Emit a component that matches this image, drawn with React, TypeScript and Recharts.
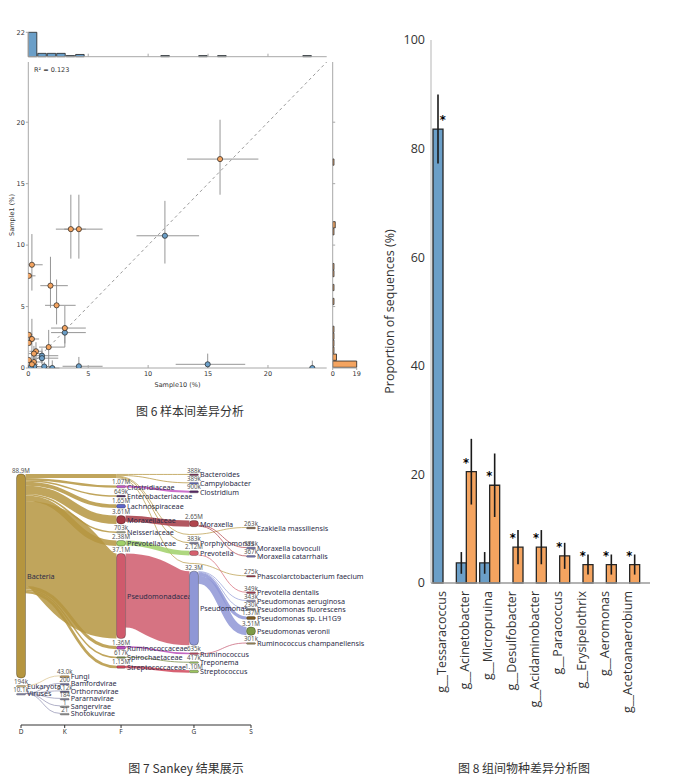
import React from "react";
import {
  Bar,
  BarChart,
  ComposedChart,
  ErrorBar,
  Line,
  LineChart,
  ReferenceLine,
  Sankey,
  Scatter,
  ScatterChart,
  XAxis,
  YAxis,
} from "recharts";

/* ---------- Fig. 6: genus abundance, Sample10 vs Sample1 ---------- */

const AXIS_MAX = 24.9;
const pctTicks = [0, 5, 10, 15, 20];
const innerTicks = [5, 10, 15, 20];
const R2_TEXT = "R\u00b2 = 0.123";

// [Sample10, Sample1, Sample10 low, Sample10 high, Sample1 low, Sample1 high]
const higherInSample1: number[][] = [
  [16.0, 17.0, 13.25, 19.2, 14.1, 20.2],
  [3.55, 11.3, 2.3, 4.8, 8.9, 14.1],
  [4.22, 11.3, 3.0, 6.2, 8.9, 14.1],
  [0.3, 8.4, 0, 1.2, 6.3, 10.9],
  [0.05, 7.5, 0, 0.6, 7.5, 7.5],
  [1.85, 6.7, 1.0, 3.3, 4.9, 9.05],
  [2.36, 5.1, 1.4, 3.95, 3.55, 7.2],
  [3.05, 3.25, 1.9, 4.8, 1.7, 5.05],
  [1.7, 1.7, 0.9, 3.05, 0.1, 3.1],
  [0.05, 2.7, 0, 0.35, 2.7, 2.7],
  [0.3, 2.36, 0, 0.9, 0.8, 4.0],
  [0.05, 2.04, 0, 0.3, 2.04, 2.04],
  [0.64, 1.36, 0.1, 1.2, 0.6, 2.1],
  [0.47, 1.17, 0, 1.0, 0.5, 1.8],
  [0.05, 0.65, 0, 0.2, 0.65, 0.65],
  [0.47, 0.49, 0, 1.1, 0, 1.0],
  [0.3, 0.3, 0, 0.8, 0, 0.6],
];

const higherInSample10: number[][] = [
  [11.4, 10.76, 9.03, 14.25, 8.5, 13.6],
  [3.05, 2.88, 1.9, 4.8, 2.0, 3.5],
  [1.14, 1.0, 0.3, 2.5, 0.4, 1.6],
  [1.14, 0.8, 0.3, 2.5, 0.3, 1.3],
  [0.5, 0.12, 0.1, 0.9, 0, 0.4],
  [1.33, 0.12, 0.7, 2.0, 0, 0.5],
  [2.0, 0, 1.4, 2.6, 0, 0.62],
  [4.22, 0.14, 2.86, 6.2, 0, 0.9],
  [14.97, 0.3, 12.3, 18.1, 0, 1.17],
  [23.7, 0, 23.7, 23.7, 0, 0.6],
  [0.2, 0.05, 0, 0.5, 0, 0.2],
];

// marginal histograms (counts per bin)
const SAMPLE10_BIN = 0.79;
const sample10Counts = [22, 3, 3, 3, 1, 2, 0, 0, 0, 0, 0, 0, 0, 0, 1, 0, 0, 0, 1, 0, 1, 0, 0, 0, 0, 0, 0, 0, 0, 1];
const SAMPLE1_BIN = 0.567;
const sample1Counts = [19, 3, 1, 1, 1, 1, 0, 0, 0, 1, 0, 1, 0, 1, 1, 0, 0, 0, 0, 1, 2, 0, 0, 0, 0, 0, 0, 0, 0, 1];

/* ---------- Fig. 8: genera differing between groups ---------- */

const genera = [
  "g__Tessaracoccus",
  "g__Acinetobacter",
  "g__Micropruina",
  "g__Desulfobacter",
  "g__Acidaminobacter",
  "g__Paracoccus",
  "g__Erysipelothrix",
  "g__Aeromonas",
  "g__Acetoanaerobium",
];
const groupAMean = [83.6, 3.7, 3.7, 0, 0, 0, 0, 0, 0];
const groupAErr = [6.35, 2.0, 2.0, null, null, null, null, null, null];
const groupBMean = [0, 20.5, 18.0, 6.6, 6.6, 5.0, 3.4, 3.4, 3.4];
const groupBErr = [null, 6.05, 5.85, 3.15, 3.15, 2.4, 1.85, 1.85, 1.85];
const significant = [true, true, true, true, true, true, true, true, true];
const pctAxisTicks = [0, 20, 40, 60, 80, 100];

/* ---------- Fig. 7: read classification flow ---------- */

// helper nodes start with "·" and are never drawn; "·rest" nodes hold the reads
// that stay at the parent's level, "·via" nodes carry flows that skip a rank
const ROOT = "·root";
const VIA_F = "·via F";
const VIA_G1 = "·via G1";
const VIA_G2 = "·via G2";
const rest = (name: string) => "·rest " + name;

const ranks = ["D", "K", "F", "G", "S"];

// [name, rank]; order inside a rank is the stacking order
const taxa: [string, string][] = [
  [ROOT, "D"],
  ["Bacteria", "D"],
  ["Eukaryota", "D"],
  ["Viruses", "D"],

  [VIA_F, "F"],
  ["Clostridiaceae", "F"],
  ["Enterobacteriaceae", "F"],
  ["Lachnospiraceae", "F"],
  ["Moraxellaceae", "F"],
  ["Neisseriaceae", "F"],
  ["Prevotellaceae", "F"],
  ["Pseudomonadaceae", "F"],
  ["Ruminococcaceae", "F"],
  ["Spirochaetaceae", "F"],
  ["Streptococcaceae", "F"],
  ["Fungi", "K"],
  ["Bamfordvirae", "K"],
  ["Orthornavirae", "K"],
  ["Pararnavirae", "K"],
  ["Sangervirae", "K"],
  ["Shotokuvirae", "K"],

  ["Bacteroides", "G"],
  ["Campylobacter", "G"],
  ["Clostridium", "G"],
  [rest("Enterobacteriaceae"), "G"],
  [rest("Lachnospiraceae"), "G"],
  ["Moraxella", "G"],
  [VIA_G1, "G"],
  ["Porphyromonas", "G"],
  ["Prevotella", "G"],
  [VIA_G2, "G"],
  ["Pseudomonas", "G"],
  ["Ruminococcus", "G"],
  ["Treponema", "G"],
  ["Streptococcus", "G"],

  [rest("Streptococcus"), "S"],
  [rest("Clostridium"), "S"],
  [rest("Treponema"), "S"],
  [rest("Porphyromonas"), "S"],
  [rest("Bacteroides"), "S"],
  [rest("Campylobacter"), "S"],
  ["Ezakiella massiliensis", "S"],
  [rest("Moraxella"), "S"],
  ["Moraxella bovoculi", "S"],
  ["Moraxella catarrhalis", "S"],
  [rest("Prevotella"), "S"],
  ["Phascolarctobacterium faecium", "S"],
  [rest("Ruminococcus"), "S"],
  ["Prevotella dentalis", "S"],
  ["Pseudomonas aeruginosa", "S"],
  ["Pseudomonas fluorescens", "S"],
  ["Pseudomonas sp. LH1G9", "S"],
  ["Pseudomonas veronii", "S"],
  ["Ruminococcus champanellensis", "S"],
];

// [from, to, reads]
const flows: [string, string, number][] = [
  [ROOT, "Bacteria", 88.9e6],
  [ROOT, "Eukaryota", 194e3],
  [ROOT, "Viruses", 10.1e3],
  ["Bacteria", VIA_F, 388e3 + 389e3 + 383e3 + 263e3 + 275e3],
  ["Bacteria", "Clostridiaceae", 1.07e6],
  ["Bacteria", "Enterobacteriaceae", 649e3],
  ["Bacteria", "Lachnospiraceae", 1.65e6],
  ["Bacteria", "Moraxellaceae", 3.61e6],
  ["Bacteria", "Neisseriaceae", 703e3],
  ["Bacteria", "Prevotellaceae", 2.38e6],
  ["Bacteria", "Pseudomonadaceae", 37.1e6],
  ["Bacteria", "Ruminococcaceae", 1.36e6],
  ["Bacteria", "Spirochaetaceae", 617e3],
  ["Bacteria", "Streptococcaceae", 1.15e6],
  ["Eukaryota", "Fungi", 43.0e3],
  ["Viruses", "Bamfordvirae", 200],
  ["Viruses", "Orthornavirae", 5.12e3],
  ["Viruses", "Pararnavirae", 184],
  ["Viruses", "Sangervirae", 1],
  ["Viruses", "Shotokuvirae", 21],
  [VIA_F, "Bacteroides", 388e3],
  [VIA_F, "Campylobacter", 389e3],
  [VIA_F, "Porphyromonas", 383e3],
  [VIA_F, VIA_G1, 263e3],
  [VIA_F, VIA_G2, 275e3],
  [VIA_G1, "Ezakiella massiliensis", 263e3],
  [VIA_G2, "Phascolarctobacterium faecium", 275e3],
  ["Clostridiaceae", "Clostridium", 900e3],
  ["Enterobacteriaceae", rest("Enterobacteriaceae"), 649e3],
  ["Lachnospiraceae", rest("Lachnospiraceae"), 1.65e6],
  ["Moraxellaceae", "Moraxella", 2.65e6],
  ["Prevotellaceae", "Prevotella", 2.12e6],
  ["Pseudomonadaceae", "Pseudomonas", 32.3e6],
  ["Ruminococcaceae", "Ruminococcus", 635e3],
  ["Spirochaetaceae", "Treponema", 417e3],
  ["Streptococcaceae", "Streptococcus", 1.10e6],
  ["Bacteroides", rest("Bacteroides"), 388e3],
  ["Campylobacter", rest("Campylobacter"), 389e3],
  ["Clostridium", rest("Clostridium"), 900e3],
  ["Porphyromonas", rest("Porphyromonas"), 383e3],
  ["Treponema", rest("Treponema"), 417e3],
  ["Streptococcus", rest("Streptococcus"), 1.10e6],
  ["Moraxella", "Moraxella bovoculi", 373e3],
  ["Moraxella", "Moraxella catarrhalis", 367e3],
  ["Moraxella", rest("Moraxella"), 1.91e6],
  ["Prevotella", "Prevotella dentalis", 349e3],
  ["Prevotella", rest("Prevotella"), 1.771e6],
  ["Pseudomonas", "Pseudomonas aeruginosa", 343e3],
  ["Pseudomonas", "Pseudomonas fluorescens", 230e3],
  ["Pseudomonas", "Pseudomonas sp. LH1G9", 1.37e6],
  ["Pseudomonas", "Pseudomonas veronii", 3.51e6],
  ["Ruminococcus", "Ruminococcus champanellensis", 301e3],
  ["Ruminococcus", rest("Ruminococcus"), 334e3],
];

const taxonColor: Record<string, string> = {
  Bacteria: "#b5953f",
  Eukaryota: "#d9bf86",
  Viruses: "#8c8cae",
  Clostridiaceae: "#c356c3",
  Enterobacteriaceae: "#5b3a6e",
  Lachnospiraceae: "#5e66c9",
  Moraxellaceae: "#a53a44",
  Neisseriaceae: "#a9a98e",
  Prevotellaceae: "#a0d068",
  Pseudomonadaceae: "#cf5a6c",
  Ruminococcaceae: "#b84cb8",
  Spirochaetaceae: "#7d8f4c",
  Streptococcaceae: "#d0475a",
  Fungi: "#c8a060",
  Bamfordvirae: "#7a7aa8",
  Orthornavirae: "#6a6a90",
  Pararnavirae: "#8a8aa0",
  Sangervirae: "#999999",
  Shotokuvirae: "#999999",
  Bacteroides: "#7a3a5a",
  Campylobacter: "#6c74c4",
  Clostridium: "#5a2a6a",
  Moraxella: "#b0444c",
  Porphyromonas: "#8a88a8",
  Prevotella: "#d4606e",
  Pseudomonas: "#8f97d6",
  Ruminococcus: "#c0506a",
  Treponema: "#9ec46a",
  Streptococcus: "#9cc45e",
  "Ezakiella massiliensis": "#7a5a3a",
  "Moraxella bovoculi": "#6a6aaa",
  "Moraxella catarrhalis": "#7a7ab8",
  "Phascolarctobacterium faecium": "#9a4050",
  "Prevotella dentalis": "#a84458",
  "Pseudomonas aeruginosa": "#8a8ab8",
  "Pseudomonas fluorescens": "#7a7a7a",
  "Pseudomonas sp. LH1G9": "#7a5a20",
  "Pseudomonas veronii": "#7d9a48",
  "Ruminococcus champanellensis": "#a08a5a",
};

/* ---------- shared styles ---------- */

const BLUE = "#6b9fc8";
const ORANGE = "#f4a460";
const FRAME = "#a8a8a8";
const ERR = "#8a8a8a";
const smallFont = { fontSize: 6.5, fill: "#333", fontFamily: "DejaVu Sans" };
const noLabel = () => <g />;

/* ---------- Fig. 6 ---------- */

const toRows = (pts: number[][]) =>
  pts.map(([x, y, x0, x1, y0, y1]) => ({ x, y, ex: [x - x0, x1 - x], ey: [y - y0, y1 - y] }));
const binRows = (counts: number[], w: number) => counts.map((n, i) => ({ mid: (i + 0.5) * w, n }));

const PLOT_W = 298.4;
const PLOT_H = 306;

const dot = (fill: string) => (p: any) =>
  <circle cx={p.cx} cy={p.cy} r={2.6} fill={fill} stroke="#222" strokeWidth={0.7} />;

function SampleScatter() {
  return (
    <>
      <div style={{ position: "absolute", left: 0, top: 0 }}>
        <BarChart
          width={340}
          height={60}
          data={binRows(sample10Counts, SAMPLE10_BIN)}
          margin={{ top: 32.3, right: 13.3, bottom: 0, left: 0 }}
        >
          <XAxis type="number" dataKey="mid" domain={[0, AXIS_MAX]} ticks={innerTicks} height={3.3}
            tick={noLabel} tickSize={-3} stroke={FRAME} />
          <YAxis type="number" domain={[0, 22]} ticks={[0, 22]} width={28.3} tick={smallFont}
            tickSize={2.5} tickMargin={1} stroke={FRAME} />
          <Bar dataKey="n" fill={BLUE} stroke="#222" strokeWidth={0.8}
            barSize={(SAMPLE10_BIN * PLOT_W) / AXIS_MAX} isAnimationActive={false} />
        </BarChart>
      </div>

      <div style={{ position: "absolute", left: 300, top: 0 }}>
        <BarChart
          layout="vertical"
          width={70}
          height={400}
          data={binRows(sample1Counts, SAMPLE1_BIN)}
          margin={{ top: 62, right: 13.3, bottom: 0, left: 0 }}
        >
          <XAxis type="number" domain={[0, 19]} ticks={[0, 19]} height={32} tickSize={2}
            tickMargin={1} stroke={FRAME} tick={smallFont} />
          <YAxis type="number" dataKey="mid" domain={[0, AXIS_MAX]} ticks={innerTicks} width={32.7}
            reversed tick={noLabel} tickSize={-2.5} stroke={FRAME} />
          <Bar dataKey="n" fill={ORANGE} stroke="#222" strokeWidth={0.8}
            barSize={(SAMPLE1_BIN * PLOT_H) / AXIS_MAX} isAnimationActive={false} />
        </BarChart>
      </div>

      <div style={{ position: "absolute", left: 0, top: 0 }}>
        <ScatterChart width={340} height={400} margin={{ top: 62, right: 13.3, bottom: 0, left: 0 }}>
          <XAxis type="number" dataKey="x" domain={[0, AXIS_MAX]} ticks={pctTicks} height={32}
            tickSize={-3} tickMargin={6} stroke={FRAME} tick={smallFont} allowDataOverflow
            label={{ value: "Sample10 (%)", position: "insideBottom", offset: 13, ...smallFont }} />
          <YAxis type="number" dataKey="y" domain={[0, AXIS_MAX]} ticks={pctTicks} width={28.3}
            tickSize={2.5} tickMargin={1} stroke={FRAME} tick={smallFont} allowDataOverflow
            label={{ value: "Sample1 (%)", angle: -90, position: "insideLeft", offset: 12,
              style: { textAnchor: "middle" }, ...smallFont }} />
          <XAxis xAxisId="top" orientation="top" type="number" domain={[0, AXIS_MAX]} ticks={innerTicks}
            height={0} tickSize={-3} tick={noLabel} stroke={FRAME} />
          <YAxis yAxisId="right" orientation="right" type="number" domain={[0, AXIS_MAX]} ticks={innerTicks}
            width={0} tickSize={-3} tick={noLabel} stroke={FRAME} />
          <ReferenceLine segment={[{ x: 0, y: 0 }, { x: AXIS_MAX, y: AXIS_MAX }]} stroke="#9a9a9a"
            strokeDasharray="3 3" />
          <Scatter data={toRows(higherInSample10)} shape={dot(BLUE)} isAnimationActive={false}>
            <ErrorBar dataKey="ex" direction="x" width={0} stroke={ERR} strokeWidth={0.9} />
            <ErrorBar dataKey="ey" direction="y" width={0} stroke={ERR} strokeWidth={0.9} />
          </Scatter>
          <Scatter data={toRows(higherInSample1)} shape={dot(ORANGE)} isAnimationActive={false}>
            <ErrorBar dataKey="ex" direction="x" width={0} stroke={ERR} strokeWidth={0.9} />
            <ErrorBar dataKey="ey" direction="y" width={0} stroke={ERR} strokeWidth={0.9} />
          </Scatter>
        </ScatterChart>
      </div>

      <div style={{ position: "absolute", left: 34, top: 66, fontSize: 6.5, fontFamily: "DejaVu Sans", color: "#333" }}>
        {R2_TEXT}
      </div>
    </>
  );
}

/* ---------- Fig. 7 ---------- */

const NODE_W = 9;
const RANK_X0 = 21; // centre of the first rank column
const RANK_SPAN = 230;
const rankStops = [0, 0.19, 0.435, 0.752, 1];

const colLeft = (rank: string) => RANK_X0 + rankStops[ranks.indexOf(rank)] * RANK_SPAN - NODE_W / 2;
const isHelper = (name: string) => name.startsWith("·");
const isRest = (name: string) => name.startsWith("·rest");

function fmtReads(v: number) {
  if (v >= 1e6) return (v / 1e6).toPrecision(3) + "M";
  if (v >= 1e3) return (v / 1e3).toPrecision(3) + "k";
  return String(Math.round(v));
}

const sankeyData = {
  nodes: taxa.map(([name, rank]) => ({ name, rank })),
  links: flows.map(([from, to, value]) => ({
    source: taxa.findIndex((t) => t[0] === from),
    target: taxa.findIndex((t) => t[0] === to),
    value,
  })),
};

function TaxonNode(props: any) {
  const { y, height, payload } = props;
  const name = payload.name;
  if (isHelper(name)) return <g />;
  const x = colLeft(payload.rank);
  const h = Math.max(height, 1.6);
  const color = taxonColor[name] ?? "#999";
  return (
    <g>
      <rect x={x} y={y} width={NODE_W} height={h} rx={Math.min(4, h / 2)} fill={color}
        stroke="rgba(0,0,0,0.45)" strokeWidth={0.6} />
      <text x={x + NODE_W / 2} y={y - 1.3} textAnchor="middle" fontSize={6.2} fill="#555"
        fontFamily="Noto Sans">
        {fmtReads(payload.value)}
      </text>
      <text x={x + NODE_W + 1.5} y={y + height / 2} dominantBaseline="central" fontSize={7.2}
        fill="#2c2c48" fontFamily="Noto Sans">
        {name}
      </text>
    </g>
  );
}

function TaxonLink(props: any) {
  const { sourceY, targetY, linkWidth, payload } = props;
  const src = payload.source;
  const tgt = payload.target;
  if (src.name === ROOT || isRest(tgt.name)) return <g />;
  const x0 = colLeft(src.rank) + (isHelper(src.name) ? 0 : NODE_W);
  const x1 = colLeft(tgt.rank);
  const mid = (x0 + x1) / 2;
  const color = taxonColor[isHelper(src.name) ? "Bacteria" : src.name];
  return (
    <path
      d={`M${x0},${sourceY} C${mid},${sourceY} ${mid},${targetY} ${x1},${targetY}`}
      fill="none"
      stroke={color}
      strokeOpacity={0.85}
      strokeWidth={Math.max(linkWidth, 0.8)}
    />
  );
}

const rankAxisRows = ranks.map((r, i) => ({ pos: rankStops[i], v: 0 }));

function TaxonSankey() {
  return (
    <>
      <div style={{ position: "absolute", left: 0, top: 440 }}>
        <Sankey
          width={370}
          height={279.4}
          data={sankeyData}
          node={TaxonNode}
          link={TaxonLink}
          nodeWidth={NODE_W}
          nodePadding={7.5}
          iterations={0}
          sort={false}
          align="left"
          margin={{ top: 34, right: 0, bottom: 6, left: 0 }}
        />
      </div>
      <div style={{ position: "absolute", left: 0, top: 705 }}>
        <LineChart width={340} height={35} data={rankAxisRows}
          margin={{ top: 0, right: 340 - RANK_X0 - RANK_SPAN, bottom: 0, left: RANK_X0 }}>
          <XAxis type="number" dataKey="pos" domain={[0, 1]} ticks={rankStops} height={15}
            tickFormatter={(v: number) => ranks[rankStops.indexOf(v)]}
            tickSize={3} tickMargin={1} stroke="#333"
            tick={{ fontSize: 6.5, fill: "#333", fontFamily: "Noto Sans" }} />
          <YAxis hide domain={[0, 1]} />
          <Line dataKey="v" stroke="none" dot={false} isAnimationActive={false} />
        </LineChart>
      </div>
    </>
  );
}

/* ---------- Fig. 8 ---------- */

const genusRows = genera.map((genus, i) => ({
  genus,
  a: groupAMean[i],
  ea: groupAErr[i],
  b: groupBMean[i],
  eb: groupBErr[i],
  star: significant[i] ? Math.max(groupAMean[i], groupBMean[i]) : null,
}));

function GenusTick({ x, y, payload }: any) {
  const tx = x - 1.5;
  return (
    <text x={tx} y={y} transform={`rotate(-90 ${tx} ${y})`} textAnchor="end" dominantBaseline="central"
      fontSize={12.5} fill="#333" fontFamily="Open Sans">
      {payload.value}
    </text>
  );
}

const Asterisk = (p: any) => (
  <text x={p.cx} y={p.cy - 5} textAnchor="middle" fontSize={11.5} fontWeight="bold"
    fill="#000" stroke="none" fontFamily="DejaVu Sans">
    *
  </text>
);

function GenusBars() {
  return (
    <div style={{ position: "absolute", left: 370, top: 0 }}>
      <ComposedChart width={300} height={740} data={genusRows}
        margin={{ top: 40, right: 20, bottom: 0, left: 0 }} barCategoryGap={2} barGap={0}>
        <XAxis dataKey="genus" type="category" height={157} interval={0} tickLine={false} tickSize={6}
          tickMargin={2} tick={<GenusTick />} stroke="#9a9a9a" strokeWidth={1.5}
          padding={{ left: 0, right: 9 }} />
        <YAxis type="number" domain={[0, 100]} ticks={pctAxisTicks} width={61} tickLine={false}
          tickMargin={0} stroke="#b5b5b5"
          tick={{ fontSize: 12.5, fill: "#333", fontFamily: "Open Sans" }}
          label={{ value: "Proportion of sequences (%)", angle: -90, position: "insideLeft", offset: 20,
            style: { textAnchor: "middle" }, fontSize: 12.5, fill: "#333", fontFamily: "Open Sans" }} />
        <Bar dataKey="a" fill={BLUE} stroke="#262626" strokeWidth={1.3} isAnimationActive={false}>
          <ErrorBar dataKey="ea" width={0} stroke="#1a1a1a" strokeWidth={1.6} />
        </Bar>
        <Bar dataKey="b" fill={ORANGE} stroke="#262626" strokeWidth={1.3} isAnimationActive={false}>
          <ErrorBar dataKey="eb" width={0} stroke="#1a1a1a" strokeWidth={1.6} />
        </Bar>
        <Scatter dataKey="star" shape={Asterisk} fill="#000" isAnimationActive={false} />
      </ComposedChart>
    </div>
  );
}

/* ---------- page ---------- */

const caption = (text: string, cx: number, cy: number) => (
  <div style={{
    position: "absolute", left: cx - 120, top: cy - 8, width: 240, textAlign: "center",
    fontSize: 12, lineHeight: "16px", color: "#333", fontFamily: "Noto Sans CJK SC",
  }}>
    {text}
  </div>
);

export default function App() {
  return (
    <div style={{ position: "absolute", left: 0, top: 0, width: 673, height: 781, background: "#fff", overflow: "hidden" }}>
      <SampleScatter />
      <TaxonSankey />
      <GenusBars />
      {caption("图 6 样本间差异分析", 190, 411)}
      {caption("图 7 Sankey 结果展示", 186, 768)}
      {caption("图 8 组间物种差异分析图", 524, 768)}
    </div>
  );
}
